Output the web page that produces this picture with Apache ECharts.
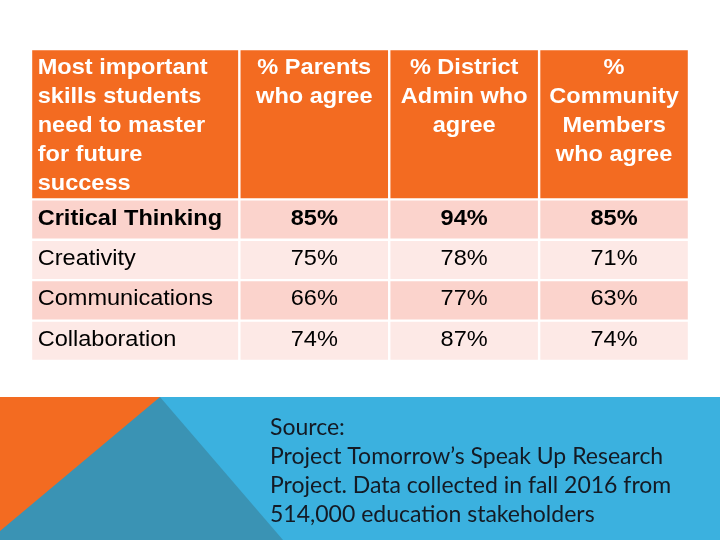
<!DOCTYPE html>
<html><head><meta charset="utf-8">
<script src="https://cdn.jsdelivr.net/npm/echarts@6/dist/echarts.min.js"></script>
<style>html,body{margin:0;padding:0;background:#fff}#c{width:720px;height:540px}</style>
</head><body><div id="c"></div>
<script>
// ---- data ----
const headers = [
  'Most important\nskills students\nneed to master\nfor future\nsuccess',
  '% Parents\nwho agree',
  '% District\nAdmin who\nagree',
  '%\nCommunity\nMembers\nwho agree'
];
const skills = ['Critical Thinking', 'Creativity', 'Communications', 'Collaboration'];
const parents = [85, 75, 66, 74];
const districtAdmin = [94, 78, 77, 87];
const community = [85, 71, 63, 74];
const sourceLines = [
  'Source:',
  'Project Tomorrow\u2019s Speak Up Research',
  'Project. Data collected in fall 2016 from',
  '514,000 education stakeholders'
];

// ---- layout (relative sizes) ----
const colWeights = [1.39, 1, 1, 1];
const rowWeights = [3.72, 1, 1, 1, 1];
function edges(w){ const e=[0]; w.forEach(v=>e.push(e[e.length-1]+v)); return e; }
const colEdges = edges(colWeights), rowEdges = edges(rowWeights);

const cells = [];
headers.forEach((h, c) => cells.push({c, r: 0, text: h, kind: 'head'}));
const valueCols = [parents, districtAdmin, community];
skills.forEach((s, i) => {
  cells.push({c: 0, r: i + 1, text: s, kind: 'body'});
  valueCols.forEach((arr, j) => cells.push({c: j + 1, r: i + 1, text: arr[i] + '%', kind: 'body'}));
});

const FONT = "'Liberation Sans', Arial, sans-serif";
const g = 1.2;
const SX = 1.07;
function renderItem(params, api) {
  const cell = cells[params.dataIndex];
  const c = api.value(0), r = api.value(1);
  const p0 = api.coord([colEdges[c], rowEdges[r]]);
  const p1 = api.coord([colEdges[c + 1], rowEdges[r + 1]]);
  const x = p0[0] + g, y = p0[1] + g, w = p1[0] - p0[0] - 2 * g, h = p1[1] - p0[1] - 2 * g;
  let fill;
  if (r === 0) fill = '#F36B21';
  else fill = (r % 2 === 1) ? '#FBD3CC' : '#FDE9E6';
  const bold = (r <= 1);
  const left = (c === 0);
  const tx = left ? x + 5.5 : x + w / 2;
  const ty = r === 0 ? y + 3 : y + h / 2 - 1;
  return {
    type: 'group',
    children: [
      {type: 'rect', shape: {x, y, width: w, height: h}, style: {fill}},
      {type: 'text', originX: tx, originY: ty, scaleX: SX, style: {
        text: cell.text,
        fill: r === 0 ? '#ffffff' : '#000000',
        font: (bold ? 'bold ' : '') + '22px ' + FONT,
        lineHeight: 29,
        textAlign: left ? 'left' : 'center',
        textVerticalAlign: r === 0 ? 'top' : 'middle',
        x: tx, y: ty
      }}
    ]
  };
}

const chart = echarts.init(document.getElementById('c'), null, {renderer: 'canvas'});
chart.setOption({
  animation: false,
  grid: {left: 31, top: 49, width: 658, height: 312},
  xAxis: {type: 'value', min: 0, max: colEdges[colEdges.length - 1], show: false},
  yAxis: {type: 'value', min: 0, max: rowEdges[rowEdges.length - 1], inverse: true, show: false},
  series: [{
    type: 'custom',
    renderItem,
    data: cells.map(d => [d.c, d.r])
  }],
  graphic: [
    {type: 'rect', shape: {x: 0, y: 397, width: 720, height: 143}, style: {fill: '#3BB1DF'}, z: 0},
    {type: 'polygon', shape: {points: [[160, 397], [283, 540], [0, 540], [0, 397]]}, style: {fill: '#3A93B4'}, z: 1},
    {type: 'polygon', shape: {points: [[0, 397], [160, 397], [0, 531]]}, style: {fill: '#F36B21'}, z: 2},
    {type: 'text', x: 270, y: 413, z: 3, style: {
      text: sourceLines.join('\n'), fill: '#141a24',
      font: "23px Lato, 'Open Sans', sans-serif", lineHeight: 29
    }}
  ]
});
</script></body></html>
